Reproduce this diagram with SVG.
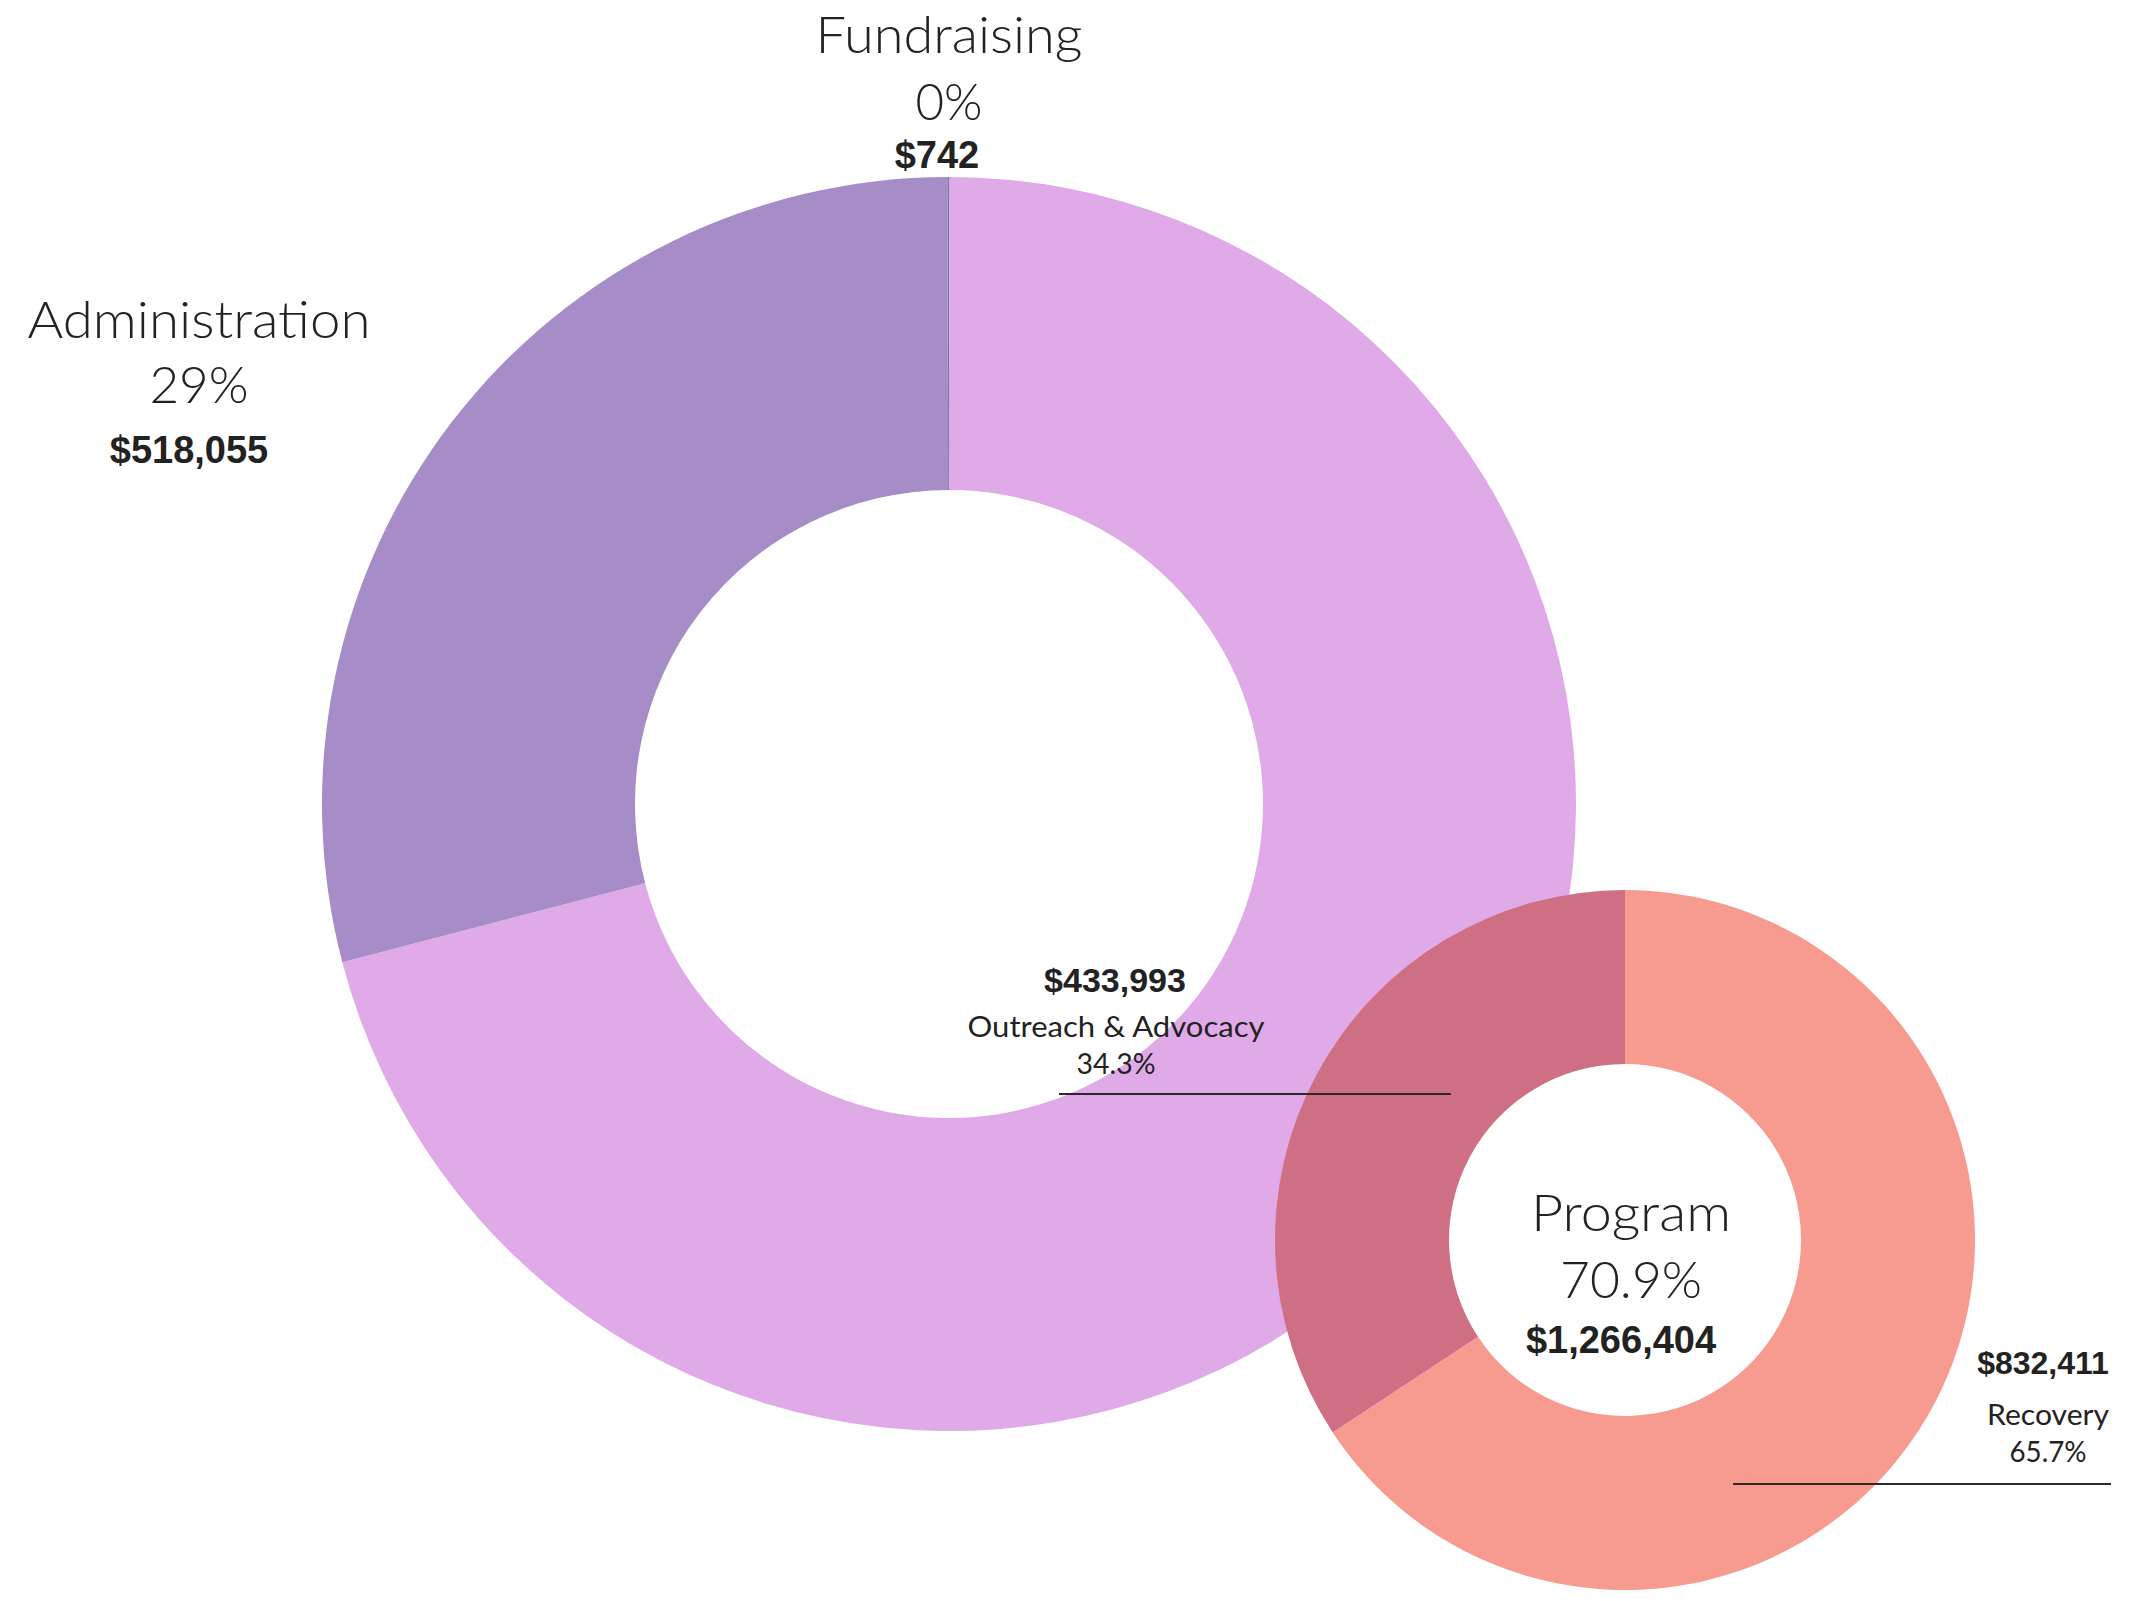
<svg xmlns="http://www.w3.org/2000/svg" width="2132" height="1601" viewBox="0 0 2132 1601">
<style>
.lbl{font-family:Lato,"Noto Sans",sans-serif;font-weight:400;fill:#222;text-anchor:middle}
.big{font-size:52px;font-weight:300}
.sm{font-size:28px}
.num{font-family:"Liberation Sans",Arial,sans-serif;font-weight:bold;fill:#222;text-anchor:middle}
.lead{stroke:#2a2a2a;stroke-width:2;fill:none}
</style>
<rect width="2132" height="1601" fill="#ffffff"/>
<g id="main-donut">
  <path id="slice-program" d="M949,177 A627,627 0 1 1 342.30,962.24 L645.17,883.25 A314,314 0 1 0 949,490 Z" fill="#E0AAE9"/>
  <path id="slice-administration" d="M342.30,962.24 A627,627 0 0 1 947.36,177.00 L948.18,490.00 A314,314 0 0 0 645.17,883.25 Z" fill="#A68DC8"/>
  <path id="slice-fundraising" d="M947.36,177 A627,627 0 0 1 949,177 L949,490 A314,314 0 0 0 948.18,490 Z" fill="#6F7BA8"/>
</g>
<g id="program-donut">
  <path id="slice-recovery" d="M1625,890 A350,350 0 1 1 1332.73,1432.56 L1478.03,1336.83 A176,176 0 1 0 1625,1064 Z" fill="#F79B90"/>
  <path id="slice-outreach" d="M1332.73,1432.56 A350,350 0 0 1 1625,890 L1625,1064 A176,176 0 0 0 1478.03,1336.83 Z" fill="#CF6F83"/>
</g>
<g id="connectors">
  <line class="lead" x1="1059" y1="1094" x2="1451" y2="1094"/>
  <line class="lead" x1="1733" y1="1484" x2="2111" y2="1484"/>
</g>
<g id="label-fundraising">
  <text class="lbl big" x="949" y="53" textLength="267" lengthAdjust="spacingAndGlyphs">Fundraising</text>
  <text class="lbl big" x="949" y="120" textLength="67" lengthAdjust="spacingAndGlyphs">0%</text>
  <text class="num" x="937" y="168" font-size="38">$742</text>
</g>
<g id="label-administration">
  <text class="lbl big" x="199" y="338" textLength="343" lengthAdjust="spacingAndGlyphs">Administration</text>
  <text class="lbl big" x="199" y="403" textLength="99" lengthAdjust="spacingAndGlyphs">29%</text>
  <text class="num" x="189" y="463" font-size="38">$518,055</text>
</g>
<g id="label-program">
  <text class="lbl big" x="1631" y="1231" textLength="200" lengthAdjust="spacingAndGlyphs">Program</text>
  <text class="lbl big" x="1631" y="1298" textLength="142" lengthAdjust="spacingAndGlyphs">70.9%</text>
  <text class="num" x="1621" y="1353" font-size="38">$1,266,404</text>
</g>
<g id="label-outreach">
  <text class="num" x="1115" y="992" font-size="34">$433,993</text>
  <text class="lbl sm" x="1116" y="1037" textLength="297" lengthAdjust="spacingAndGlyphs">Outreach &amp; Advocacy</text>
  <text class="lbl sm" x="1116" y="1074" textLength="79" lengthAdjust="spacingAndGlyphs">34.3%</text>
</g>
<g id="label-recovery">
  <text class="num" x="2043" y="1374" font-size="32">$832,411</text>
  <text class="lbl sm" x="2048" y="1425" textLength="122" lengthAdjust="spacingAndGlyphs">Recovery</text>
  <text class="lbl sm" x="2048" y="1462" textLength="77" lengthAdjust="spacingAndGlyphs">65.7%</text>
</g>
</svg>
